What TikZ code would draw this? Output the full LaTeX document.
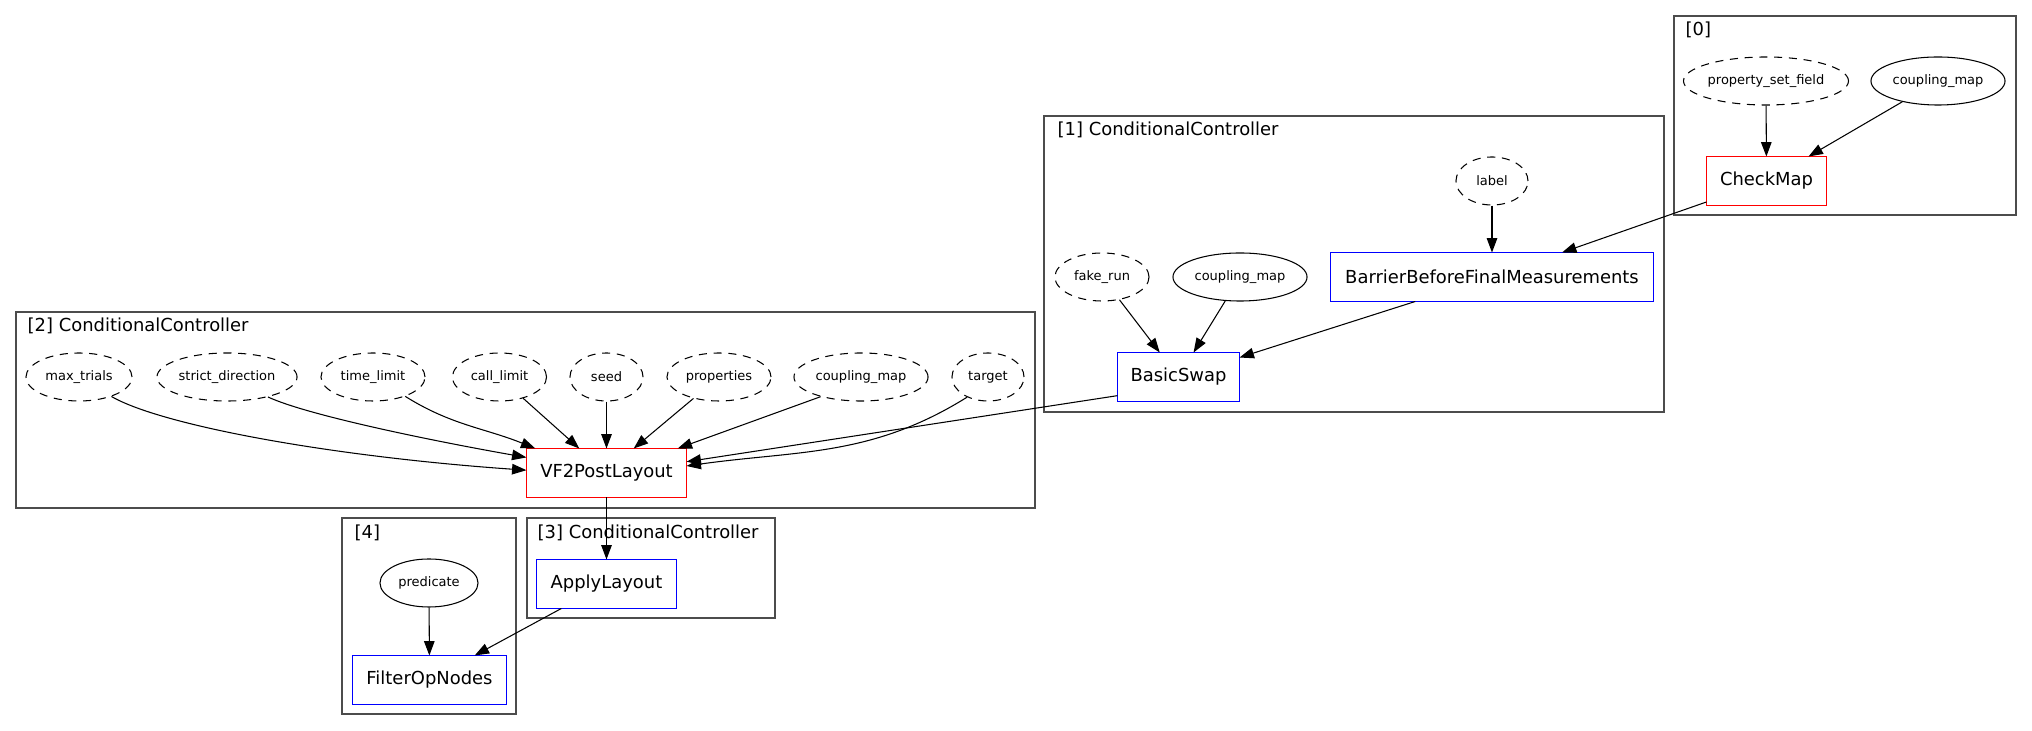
\documentclass[tikz,border=0pt]{standalone}
\usepackage{fontspec}
\setmainfont{DejaVu Sans}
\usetikzlibrary{arrows.meta,positioning,shapes.geometric,calc}

\begin{document}
\begin{tikzpicture}[
    x=0.01cm, y=0.01cm,
    pass/.style={rectangle, draw=#1, line width=0.28pt, minimum height=0.48cm,
                 inner sep=0pt, font=\fontsize{5.1}{6}\selectfont},
    optarg/.style={ellipse, draw, dash pattern=on 2.3pt off 1.9pt, line width=0.3pt,
                   minimum height=0.48cm, inner sep=0pt, font=\fontsize{3.7}{4.5}\selectfont},
    reqarg/.style={optarg, solid},
    group/.style={draw=black!70, line width=0.4pt},
    grouplabel/.style={anchor=west, inner sep=0pt, font=\fontsize{5.1}{6}\selectfont},
    arrow/.style={-{Triangle[length=4.1pt, width=3pt]}, line width=0.3pt},
]
    \useasboundingbox (0,0) rectangle (2032,-731);

    % Controller frames
    \draw[group] (1674,-16) rectangle (2016,-215);
    \node[grouplabel] (lab0) at (1685,-30) {[0]};
    \draw[group] (1044,-116) rectangle (1664,-412);
    \node[grouplabel] (lab1) at (1057,-130) {[1] ConditionalController};
    \draw[group] (16,-312) rectangle (1035,-508);
    \node[grouplabel] (lab2) at (27,-326) {[2] ConditionalController};
    \draw[group] (527,-518) rectangle (775,-618);
    \node[grouplabel] (lab3) at (537,-533) {[3] ConditionalController};
    \draw[group] (342,-518) rectangle (516,-714);
    \node[grouplabel] (lab4) at (354,-533) {[4]};

    % [0]
    \node[optarg, minimum width=1.62cm] (psf) at (1766,-81) {property\_set\_field};
    \node[reqarg, minimum width=1.34cm] (cm0) at (1938,-81) {coupling\_map};
    \node[pass=red, minimum width=1.19cm] (checkmap) at (1766.5,-181) {CheckMap};

    % [1]
    \node[optarg, minimum width=0.72cm] (lbl) at (1492,-181) {label};
    \node[pass=blue, minimum width=3.22cm] (barrier) at (1492,-277) {BarrierBeforeFinalMeasurements};
    \node[optarg, minimum width=0.94cm] (fakerun) at (1102,-277) {fake\_run};
    \node[reqarg, minimum width=1.34cm] (cm1) at (1240,-277) {coupling\_map};
    \node[pass=blue, minimum width=1.21cm] (basicswap) at (1178.5,-377) {BasicSwap};

    % [2]
    \node[optarg, minimum width=1.06cm] (maxtrials) at (79,-377) {max\_trials};
    \node[optarg, minimum width=1.40cm] (strictdir) at (227,-377) {strict\_direction};
    \node[optarg, minimum width=1.04cm] (timelimit) at (373,-377) {time\_limit};
    \node[optarg, minimum width=0.94cm] (calllimit) at (499.5,-377) {call\_limit};
    \node[optarg, minimum width=0.73cm] (seed) at (606.5,-377) {seed};
    \node[optarg, minimum width=1.04cm] (props) at (719,-377) {properties};
    \node[optarg, minimum width=1.34cm] (cm2) at (861,-377) {coupling\_map};
    \node[optarg, minimum width=0.72cm] (target) at (988,-377) {target};
    \node[pass=red, minimum width=1.59cm] (vf2) at (606.5,-473) {VF2PostLayout};

    % [3] and [4]
    \node[pass=blue, minimum width=1.39cm] (applylayout) at (606.5,-584) {ApplyLayout};
    \node[reqarg, minimum width=0.98cm] (predicate) at (429,-583) {predicate};
    \node[pass=blue, minimum width=1.53cm] (filterop) at (429.5,-680) {FilterOpNodes};

    % Arrows
    \draw[arrow] (psf) -- (checkmap);
    \draw[arrow] (cm0) -- (checkmap);
    \draw[arrow] (checkmap) -- (barrier);
    \draw[arrow] (lbl) -- (barrier);
    \draw[arrow] (fakerun) -- (basicswap);
    \draw[arrow] (cm1) -- (basicswap);
    \draw[arrow] (barrier) -- (basicswap);
    \draw[arrow] (basicswap.197) -- (vf2.8);

    \draw[arrow] (maxtrials.-31) to[out=-30, in=176, out looseness=0.35, in looseness=1.2] (vf2.178);
    \draw[arrow] (strictdir.-26) to[out=-25, in=170, out looseness=0.4] (vf2.169);
    \draw[arrow] (timelimit.-31) to[out=-32, in=158] (vf2.161);
    \draw[arrow] (calllimit.-42) -- (vf2.138);
    \draw[arrow] (seed) -- (vf2);
    \draw[arrow] (props.220) -- (vf2.42);
    \draw[arrow] (cm2.206) -- (vf2.19);
    \draw[arrow] (target.224) to[out=212, in=8] (vf2.5);

    \draw[arrow] (vf2) -- (applylayout);
    \draw[arrow] (applylayout) -- (filterop);
    \draw[arrow] (predicate) -- (filterop);
\end{tikzpicture}
\end{document}
